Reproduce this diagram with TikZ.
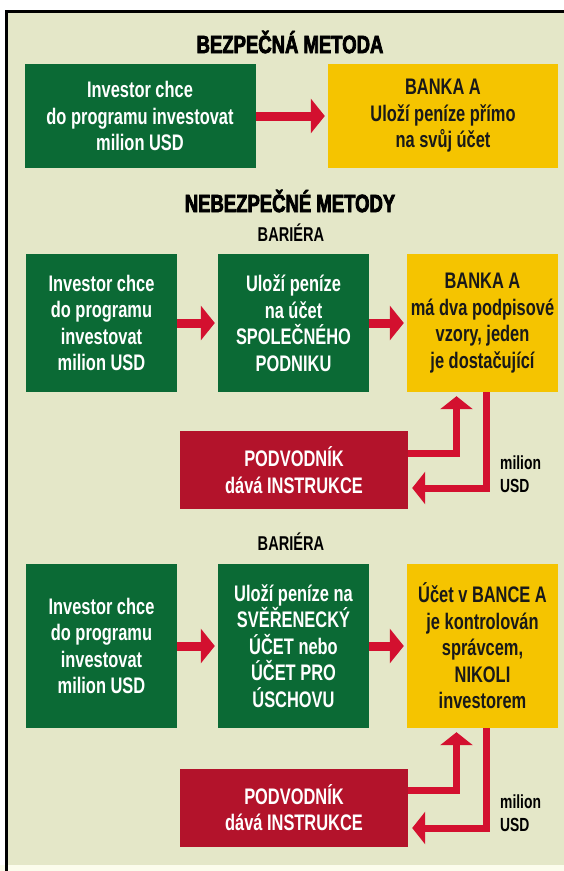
\documentclass[tikz,border=0pt]{standalone}
\usepackage{fontspec}
\newfontfamily\condfont{Liberation Sans}[FakeStretch=0.73]
\newfontfamily\heavyfont{Liberation Sans}[FakeStretch=0.74,FakeBold=3]
\usetikzlibrary{arrows.meta, positioning}
\definecolor{bgbeige}{HTML}{E4E7C8}
\definecolor{paper}{HTML}{FBFCEC}
\definecolor{invgreen}{HTML}{0B6A35}
\definecolor{bankyellow}{HTML}{F5C400}
\definecolor{fraudred}{HTML}{B3132B}
\definecolor{arrowred}{HTML}{D3102F}

\begin{document}
\begin{tikzpicture}[
    x=1pt, y=-1pt,
    gbox/.style={rectangle, fill=invgreen, text=white, align=center,
                 inner sep=0pt, minimum width=151pt,
                 font=\condfont\bfseries\fontsize{22.5}{26.5}\selectfont},
    ybox/.style={rectangle, fill=bankyellow, text=black!90, align=center,
                 inner sep=0pt, minimum width=151pt,
                 font=\condfont\bfseries\fontsize{22.5}{26.5}\selectfont},
    rbox/.style={rectangle, fill=fraudred, text=white, align=center,
                 inner sep=0pt, minimum width=228pt, minimum height=78pt,
                 font=\condfont\bfseries\fontsize{22.5}{26.5}\selectfont},
    head/.style={font=\heavyfont\bfseries\fontsize{25}{27}\selectfont},
    bar/.style={font=\condfont\bfseries\fontsize{20}{22}\selectfont},
    lbl/.style={anchor=west, align=left, inner sep=0pt,
                font=\condfont\bfseries\fontsize{19}{23}\selectfont},
    a/.style={arrowred, line width=9pt,
              -{Triangle[width=34pt,length=14pt]}, shorten >=3pt},
    fb/.style={arrowred, line width=7pt,
               -{Triangle[width=32pt,length=13pt]}, shorten >=4pt},
]
\useasboundingbox (0,0) rectangle (564,871);

%% ─── background and frame ────────────────────────────────────
\fill[paper] (0,865) rectangle (564,871);
\fill[bgbeige] (8,13) rectangle (564,865);
\draw[line width=3pt] (6.5,871) -- (6.5,11.5) -- (564,11.5);

%% ─── safe method ─────────────────────────────────────────────
\node[head] (safe) at (290,42) {BEZPEČNÁ METODA};

\node[gbox, minimum width=231pt, minimum height=104pt] (inv1) at (140,116)
    {Investor chce\\do programu investovat\\milion USD};
\node[ybox, minimum width=230pt, minimum height=104pt] (bank1) at (443,116)
    {BANKA A\\Uloží peníze přímo\\na svůj účet};

\draw[a] (inv1.east) -- (bank1.west);

%% ─── unsafe methods, first barrier ───────────────────────────
\node[head] (unsafe) at (290,201) {NEBEZPEČNÉ METODY};
\node[bar] (bar1) at (291,233) {BARIÉRA};

\node[gbox, minimum height=138pt] (inv2) at (101.5,323)
    {Investor chce\\do programu\\investovat\\milion USD};
\node[gbox, minimum height=138pt] (dep2) at (293.5,323)
    {Uloží peníze\\na účet\\SPOLEČNÉHO\\PODNIKU};
\node[ybox, minimum height=138pt] (bank2) at (482.5,323)
    {BANKA A\\má dva podpisové\\vzory, jeden\\je dostačující};
\node[rbox] (podv2) at (294,470) {PODVODNÍK\\dává INSTRUKCE};
\node[lbl] (mil2) at (500,474) {milion\\USD};

\draw[a] (inv2.east) -- (dep2.west);
\draw[a] (dep2.east) -- (bank2.west);

% fraudster instructs the bank, money flows back
\draw[fb] ([yshift=17pt]podv2.east) -| ([xshift=-26pt]bank2.south);
\draw[fb] ([xshift=4pt]bank2.south) |- ([yshift=-18pt]podv2.east);

%% ─── second barrier ──────────────────────────────────────────
\node[bar] (bar2) at (291,542) {BARIÉRA};

\node[gbox, minimum height=164pt] (inv3) at (101.5,646)
    {Investor chce\\do programu\\investovat\\milion USD};
\node[gbox, minimum height=164pt] (dep3) at (293.5,646)
    {Uloží peníze na\\SVĚŘENECKÝ\\ÚČET nebo\\ÚČET PRO\\ÚSCHOVU};
\node[ybox, minimum height=164pt] (bank3) at (482.5,646)
    {Účet v BANCE A\\je kontrolován\\správcem,\\NIKOLI\\investorem};
\node[rbox] (podv3) at (294,807.5) {PODVODNÍK\\dává INSTRUKCE};
\node[lbl] (mil3) at (500,813.5) {milion\\USD};

\draw[a] (inv3.east) -- (dep3.west);
\draw[a] (dep3.east) -- (bank3.west);

% same loop as above
\draw[fb] ([yshift=17.5pt]podv3.east) -| ([xshift=-26pt]bank3.south);
\draw[fb] ([xshift=4pt]bank3.south) |- ([yshift=-20.5pt]podv3.east);

\end{tikzpicture}
\end{document}
